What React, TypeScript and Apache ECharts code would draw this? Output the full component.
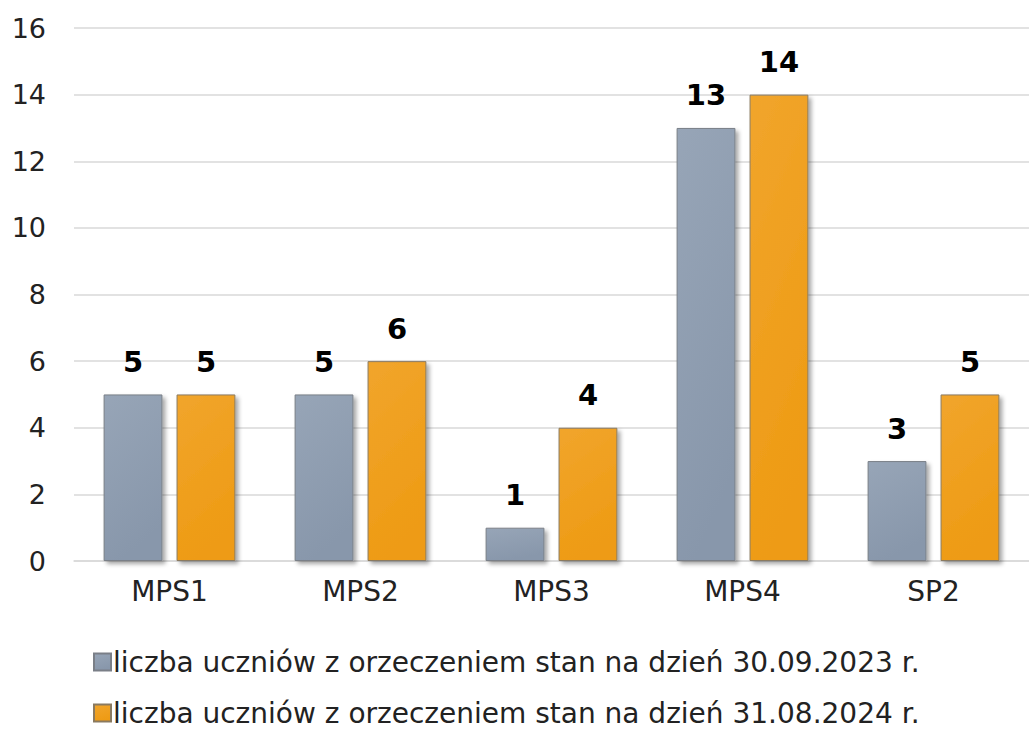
import React, { useEffect, useRef } from "react";
import * as echarts from "echarts";

const categories = ["MPS1", "MPS2", "MPS3", "MPS4", "SP2"];
const series2023 = [5, 5, 1, 13, 3];
const series2024 = [5, 6, 4, 14, 5];
const seriesNames = [
  "liczba uczniów z orzeczeniem stan na dzień 30.09.2023 r.",
  "liczba uczniów z orzeczeniem stan na dzień 31.08.2024 r.",
];

const FONT = "DejaVu Sans";

export default function App() {
  const ref = useRef<HTMLDivElement>(null);
  useEffect(() => {
    const chart = echarts.init(ref.current!, null, { renderer: "svg" });
    const grad = (a: string, b: string) =>
      new echarts.graphic.LinearGradient(0, 0, 0.3, 1, [
        { offset: 0, color: a },
        { offset: 1, color: b },
      ]);
    const common = {
      type: "bar",
      barGap: "24%",
      barCategoryGap: "31%",
      label: {
        show: true,
        position: "top",
        distance: 18,
        color: "#000",
        fontFamily: FONT,
        fontWeight: "bold",
        fontSize: 29,
      },
    };
    const legendBase = {
      orient: "horizontal",
      left: 88,
      itemWidth: 17,
      itemHeight: 17,
      icon: "rect",
      textStyle: { fontFamily: FONT, fontSize: 28, color: "#222", padding: [0, 0, 0, -3] },
    };
    chart.setOption({
      animation: false,
      textStyle: { fontFamily: FONT },
      grid: { left: 74, right: 0, top: 28, bottom: 171, containLabel: false },
      legend: [
        { ...legendBase, top: 643, data: [seriesNames[0]] },
        { ...legendBase, top: 694, data: [seriesNames[1]] },
      ],
      xAxis: {
        type: "category",
        data: categories,
        axisLine: { lineStyle: { color: "#d9d9d9", width: 1.5 } },
        axisTick: { show: false },
        axisLabel: { color: "#222", fontSize: 28, fontFamily: FONT, margin: 16 },
      },
      yAxis: {
        type: "value",
        min: 0,
        max: 16,
        interval: 2,
        splitLine: { lineStyle: { color: "#d9d9d9", width: 1.5 } },
        axisLabel: { color: "#222", fontSize: 27, fontFamily: FONT, margin: 28 },
      },
      series: [
        {
          ...common,
          name: seriesNames[0],
          data: series2023,
          itemStyle: {
            color: grad("#97a5b7", "#8897ab"),
            borderColor: "#7a7f87",
            borderWidth: 1,
            shadowColor: "rgba(0,0,0,0.35)",
            shadowBlur: 4,
            shadowOffsetX: 3,
            shadowOffsetY: 3,
          },
        },
        {
          ...common,
          name: seriesNames[1],
          data: series2024,
          itemStyle: {
            color: grad("#f1a52c", "#ee9b14"),
            borderColor: "#8a7a60",
            borderWidth: 1,
            shadowColor: "rgba(0,0,0,0.35)",
            shadowBlur: 4,
            shadowOffsetX: 3,
            shadowOffsetY: 3,
          },
        },
      ],
    });
    return () => chart.dispose();
  }, []);
  return <div ref={ref} style={{ width: 1029, height: 732, position: "absolute", left: 0, top: 0 }} />;
}
